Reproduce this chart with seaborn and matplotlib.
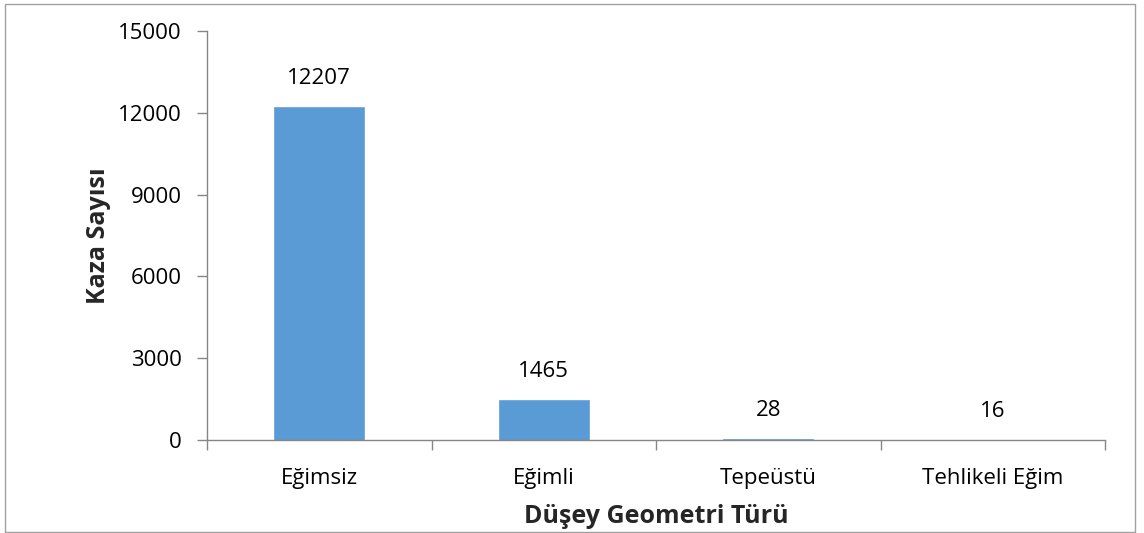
import matplotlib
matplotlib.use("Agg")
import matplotlib.pyplot as plt
import seaborn as sns
import pandas as pd
import numpy as np
from matplotlib.patches import Rectangle

categories = ["Eğimsiz", "Eğimli", "Tepeüstü", "Tehlikeli Eğim"]
values = [12207, 1465, 28, 16]
yticks = [0, 3000, 6000, 9000, 12000, 15000]

sns.set_theme(style="white")
plt.rcParams['font.family'] = ['Open Sans', 'DejaVu Sans']

df = pd.DataFrame({"cat": categories, "val": values})

fig = plt.figure(figsize=(11.44, 5.33), dpi=100)
ax = fig.add_axes([207/1144, 1-440/533, (1105-207)/1144, (440-31)/533])

sns.barplot(data=df, x="cat", y="val", color="#5B9BD5", width=0.4,
            saturation=1, ax=ax, edgecolor="#6FA8DC", linewidth=0.6)

ax.set_xlim(-0.5, len(categories)-0.5)
ax.set_ylim(0, 15000)
ax.set_yticks(yticks)
ax.set_yticklabels([str(t) for t in yticks], fontsize=16, color="black")
ax.set_xticks(range(len(categories)))
ax.set_xticklabels(categories, fontsize=16, color="black")
ax.set_xticks(np.arange(-0.5, len(categories), 1.0), minor=True)
ax.tick_params(axis="x", which="major", length=0, pad=20)
ax.tick_params(axis="x", which="minor", length=7, width=1, color="#868686", direction="out", bottom=True)
ax.tick_params(axis="y", which="major", length=7, width=1, color="#868686", direction="out", left=True, pad=11)

for side in ["top", "right"]:
    ax.spines[side].set_visible(False)
for side in ["left", "bottom"]:
    ax.spines[side].set_color("#868686")
    ax.spines[side].set_linewidth(1)

ax.bar_label(ax.containers[0], labels=[str(v) for v in values], padding=13, fontsize=16, color="black")

ax.set_ylabel("Kaza Sayısı", fontsize=18, fontweight="bold", labelpad=5)
ax.set_xlabel("Düşey Geometri Türü", fontsize=18, fontweight="bold", labelpad=11)

fig.patches.append(Rectangle((5/1144, 1/533), 1130/1144, 528/533, transform=fig.transFigure,
                             fill=False, edgecolor="#A0A0A0", linewidth=1))

fig.savefig("out.png", dpi=100)
